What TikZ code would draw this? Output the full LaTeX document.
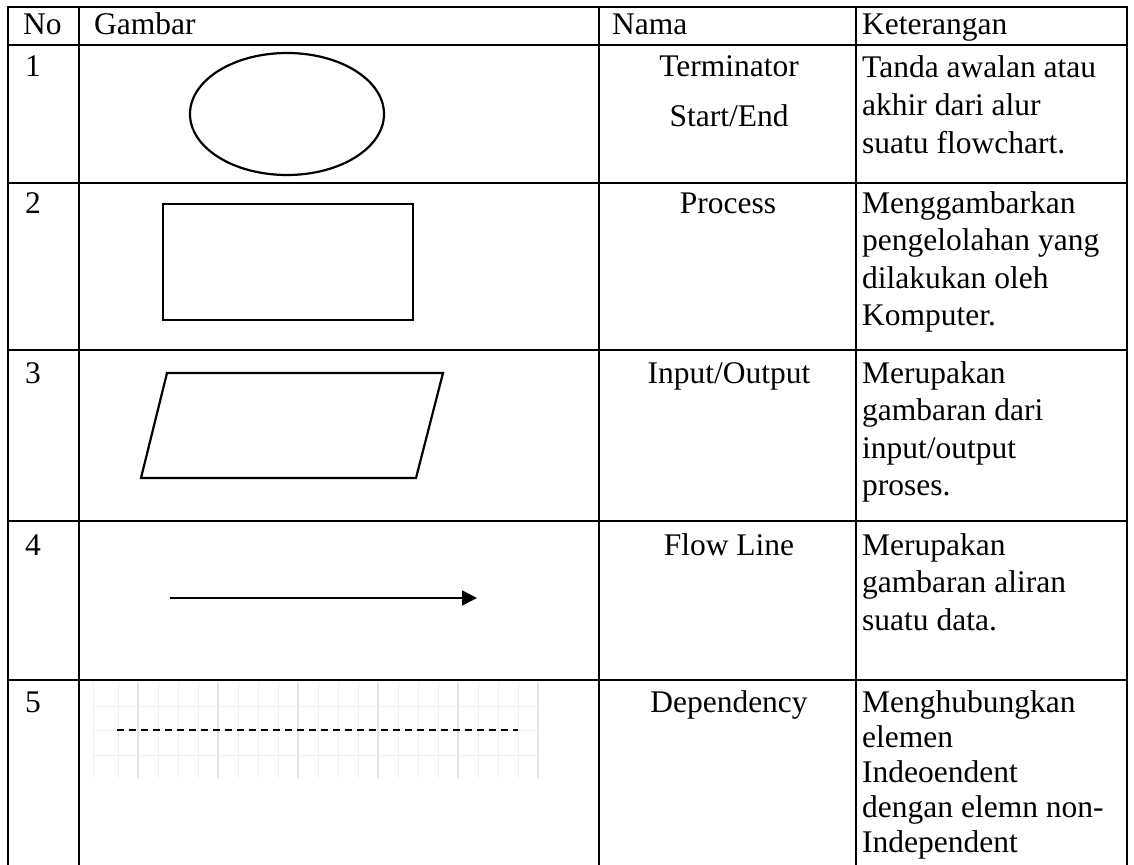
\documentclass[tikz,border=0pt]{standalone}
\usepackage{fontspec}
\setmainfont{Liberation Serif}
\usepackage{tikz}
\usetikzlibrary{arrows.meta,shapes.geometric}

\newcommand{\celllines}[1]{\begin{tabular}[t]{@{}l@{}}#1\end{tabular}}

\begin{document}
\begin{tikzpicture}[
  x=1pt, y=-1pt,
  rule/.style={line width=2.6pt, line cap=rect},             % table rules
  gridminor/.style={line width=1pt, black!6},                % faint grid behind row 5
  gridmajor/.style={line width=1.2pt, black!11},
  sym/.style={draw, line width=2.2pt, inner sep=0pt},        % flowchart symbols
  flow/.style={-{Triangle[length=15pt, width=15pt]}, line width=1.6pt},
  dep/.style={line width=2.8pt, dash pattern=on 7pt off 5pt},
  txt/.style={anchor=base west, inner sep=0pt, font=\fontsize{31.5}{37.5}\selectfont},
  txttight/.style={txt, font=\fontsize{31.5}{35}\selectfont},
  mid/.style={anchor=base, inner sep=0pt, font=\fontsize{31.5}{37.5}\selectfont}
]
\useasboundingbox (0,0) rectangle (1134,864);

% Grid behind the dependency line
\foreach \gx in {93,118,138,158,...,538}
  \draw[gridminor] (\gx,682) -- (\gx,778);
\foreach \gx in {138,218,...,538}
  \draw[gridmajor] (\gx,682) -- (\gx,778);
\foreach \gy in {706,730,755}
  \draw[gridminor] (93,\gy) -- (542,\gy);

% Table rules
\foreach \ry in {7,45,183,350,521,680}
  \draw[rule] (8,\ry) -- (1127,\ry);
\foreach \cx in {8,79,599,856,1127}
  \draw[rule] (\cx,7) -- (\cx,864);

% Header
\node[txt] (h-no)   at (23,35)  {No};
\node[txt] (h-gbr)  at (94,35)  {Gambar};
\node[txt] (h-nama) at (612,35) {Nama};
\node[txt] (h-ket)  at (862,35) {Keterangan};

% Row numbers
\node[txt] (no1) at (25,77)  {1};
\node[txt] (no2) at (25,213) {2};
\node[txt] (no3) at (25,383) {3};
\node[txt] (no4) at (25,555) {4};
\node[txt] (no5) at (25,712) {5};

% Symbols
\node[sym, ellipse, minimum width=194pt, minimum height=122pt] (term) at (287,114) {};
\node[sym, rectangle, minimum width=250pt, minimum height=116pt] (proc) at (288,262) {};
\draw[line width=2.2pt] (167,373) -- (443,373) -- (416,478) -- (141,478) -- cycle;
\coordinate (fl-start) at (170,598);
\coordinate (fl-end)   at (477,598);
\draw[flow] (fl-start) -- (fl-end);
\coordinate (dp-start) at (117,730);
\coordinate (dp-end)   at (518,730);
\draw[dep] (dp-start) -- (dp-end);

% Names
\node[mid] (n-term)  at (729,77)  {Terminator};
\node[mid] (n-se)    at (729,127) {Start/End};
\node[mid] (n-proc)  at (728,213) {Process};
\node[mid] (n-io)    at (729,383) {Input/Output};
\node[mid] (n-flow)  at (729,555) {Flow Line};
\node[mid] (n-dep)   at (729,712) {Dependency};

% Descriptions
\node[txt] (k1) at (862,78)  {\celllines{Tanda awalan atau\\ akhir dari alur\\ suatu flowchart.}};
\node[txt] (k2) at (862,213) {\celllines{Menggambarkan\\ pengelolahan yang\\ dilakukan oleh\\ Komputer.}};
\node[txt] (k3) at (862,383) {\celllines{Merupakan\\ gambaran dari\\ input/output\\ proses.}};
\node[txt] (k4) at (862,555) {\celllines{Merupakan\\ gambaran aliran\\ suatu data.}};
\node[txttight] (k5) at (862,712) {\celllines{Menghubungkan\\ elemen\\ Indeoendent\\ dengan elemn non-\\ Independent}};

\end{tikzpicture}
\end{document}
